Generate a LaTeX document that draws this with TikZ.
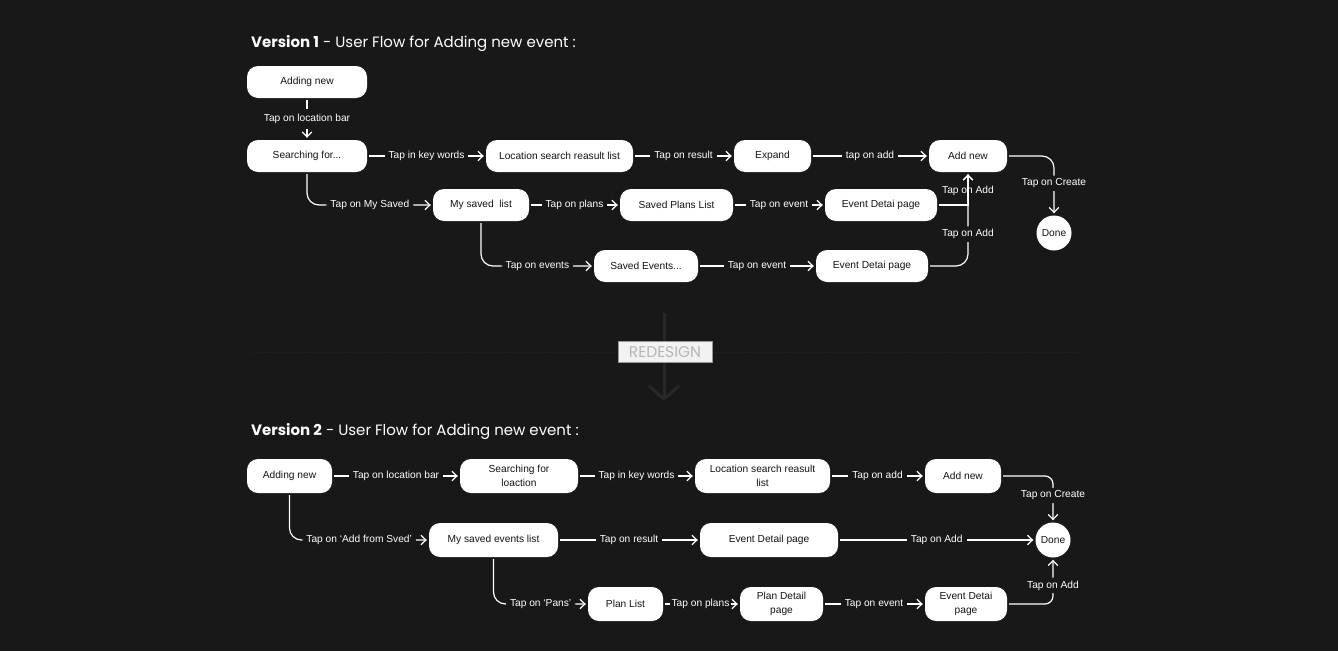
\documentclass[tikz,border=0pt]{standalone}
\usepackage{fontspec}
\setmainfont{Liberation Sans}
\newfontfamily\titlef{Poppins}
\usetikzlibrary{arrows.meta,calc}
\definecolor{bg}{RGB}{24,24,24}
\definecolor{boxtext}{RGB}{20,20,20}
\definecolor{redfill}{RGB}{242,242,242}
\definecolor{redborder}{RGB}{150,150,150}
\definecolor{redtext}{RGB}{182,182,182}
\definecolor{arrowgrey}{RGB}{40,41,38}
\definecolor{dotgrey}{RGB}{36,36,36}
\begin{document}
\begin{tikzpicture}[x=1pt,y=-1pt,
  box/.style={fill=white, rounded corners=11pt, text=boxtext,
    font=\fontsize{10.2}{14}\selectfont, align=center,
    minimum height=32pt, inner sep=0pt},
  box2/.style={box, minimum height=34pt},
  donenode/.style={circle, fill=white, text=boxtext, minimum size=35pt,
    inner sep=0pt, font=\fontsize{10.2}{12}\selectfont},
  conn/.style={draw=white, line width=1.2pt,
    -{Straight Barb[length=5pt,width=9.5pt,line width=1.2pt]},
    shorten <=2pt, shorten >=2pt},
  lbl/.style={fill=bg, text=white, font=\fontsize{10.2}{12}\selectfont,
    inner xsep=4pt, inner ysep=3pt},
  lblnf/.style={text=white, font=\fontsize{10.2}{12}\selectfont, inner sep=1pt},
  title/.style={anchor=base west, text=white, inner sep=0pt,
    font=\titlef\fontsize{15}{18}\selectfont}
]
\fill[bg] (0,0) rectangle (1338,651);
\useasboundingbox (0,0) rectangle (1338,651);

% ---------- Version 1 ----------
\node[title] (title1) at (251,47) {\textbf{Version 1} - User Flow for Adding new event :};

\node[box, minimum width=120pt] (addnew1) at (307,82) {Adding new};
\node[box, minimum width=120pt] (search1) at (307,156) {Searching for...};
\node[box, minimum width=147pt] (loc1) at (559.5,156) {Location search reasult list};
\node[box, minimum width=77pt] (expand1) at (772.5,156) {Expand};
\node[box, minimum width=78pt] (add1) at (968,156) {Add new};
\node[box, minimum width=96pt] (mysaved1) at (481,205) {My saved\ \ list};
\node[box, minimum width=113pt] (plans1) at (676.5,205) {Saved Plans List};
\node[box, minimum width=112pt] (ed1) at (881,205) {Event Detai page};
\node[box, minimum width=104pt] (events1) at (646,266) {Saved Events...};
\node[box, minimum width=112pt] (ed2) at (872,266) {Event Detai page};
\node[donenode] (done1) at (1054,233) {Done};

\node[lblnf] (tapadd1a) at ($(add1.south)+(0,19)$) {Tap on Add};

\draw[conn] (addnew1.south) -- node[lbl, inner ysep=5pt]{Tap on location bar} (search1.north);
\draw[conn] (search1.east) -- node[lbl]{Tap in key words} (loc1.west);
\draw[conn] (loc1.east) -- node[lbl]{Tap on result} (expand1.west);
\draw[conn] (expand1.east) -- node[lbl]{tap on add} (add1.west);
\draw[conn, rounded corners=12pt] (search1.south) |- node[lbl, pos=0.75]{Tap on My Saved} (mysaved1.west);
\draw[conn] (mysaved1.east) -- node[lbl]{Tap on plans} (plans1.west);
\draw[conn] (plans1.east) -- node[lbl]{Tap on event} (ed1.west);
\draw[conn, rounded corners=12pt] (mysaved1.south) |- node[lbl, pos=0.75]{Tap on events} (events1.west);
\draw[conn] (events1.east) -- node[lbl]{Tap on event} (ed2.west);
\draw[conn] (ed1.east) -| (add1.south);
\draw[conn, rounded corners=12pt] (ed2.east) -| node[lbl, pos=0.67]{Tap on Add} (add1.south);
\draw[conn, rounded corners=12pt] (add1.east) -| node[lbl, pos=0.73]{Tap on Create} (done1.north);

% ---------- Redesign ----------
\coordinate (dotl) at (251,352);
\coordinate (dotr) at (1083,352);
\draw[dotgrey, dotted, line width=0.5pt] (dotl) -- (dotr);
\coordinate (redtop) at (664,313);
\coordinate (redbot) at (664,401);
\draw[arrowgrey, line width=3pt, -{Straight Barb[length=13pt,width=30pt]}] (redtop) -- (redbot);
\node[fill=redfill, draw=redborder, line width=0.8pt, text=redtext,
  font=\titlef\fontsize{15.5}{16}\selectfont, minimum width=94pt,
  minimum height=21pt, inner sep=0pt] (redesign) at (665,352) {REDESIGN};

% ---------- Version 2 ----------
\node[title] (title2) at (251,435) {\textbf{Version 2} - User Flow for Adding new event :};

\node[box2, minimum width=85pt] (addnew2) at (289.5,476) {Adding new};
\node[box2, minimum width=118pt] (search2) at (519,476) {Searching for\\loaction};
\node[box2, minimum width=135pt] (loc2) at (762.5,476) {Location search reasult\\list};
\node[box2, minimum width=76pt] (add2) at (963,476) {Add new};
\node[box2, minimum width=129pt] (mysaved2) at (493.5,540) {My saved events list};
\node[box2, minimum width=138pt] (evdetail2) at (769,540) {Event Detail page};
\node[donenode] (done2) at (1053,540) {Done};
\node[box2, minimum width=75pt] (planlist) at (625.5,604) {Plan List};
\node[box2, minimum width=83pt] (plandetail) at (781.5,604) {Plan Detail\\page};
\node[box2, minimum width=82pt] (ed3) at (966,604) {Event Detai\\page};

\draw[conn] (addnew2.east) -- node[lbl]{Tap on location bar} (search2.west);
\draw[conn] (search2.east) -- node[lbl]{Tap in key words} (loc2.west);
\draw[conn] (loc2.east) -- node[lbl]{Tap on add} (add2.west);
\draw[conn, rounded corners=8pt] (add2.east) -| node[lbl, pos=0.71]{Tap on Create} (done2.north);
\draw[conn, rounded corners=12pt] (addnew2.south) |- node[lbl, pos=0.75]{Tap on ‘Add from Sved’} (mysaved2.west);
\draw[conn] (mysaved2.east) -- node[lbl]{Tap on result} (evdetail2.west);
\draw[conn] (evdetail2.east) -- node[lbl]{Tap on Add} (done2.west);
\draw[conn, rounded corners=12pt] (mysaved2.south) |- node[lbl, pos=0.75]{Tap on ‘Pans’} (planlist.west);
\draw[conn] (planlist.east) -- node[lbl, inner xsep=2pt, xshift=-1pt]{Tap on plans} (plandetail.west);
\draw[conn] (plandetail.east) -- node[lbl]{Tap on event} (ed3.west);
\draw[conn, rounded corners=8pt] (ed3.east) -| node[lbl, pos=0.7]{Tap on Add} (done2.south);
\end{tikzpicture}
\end{document}
